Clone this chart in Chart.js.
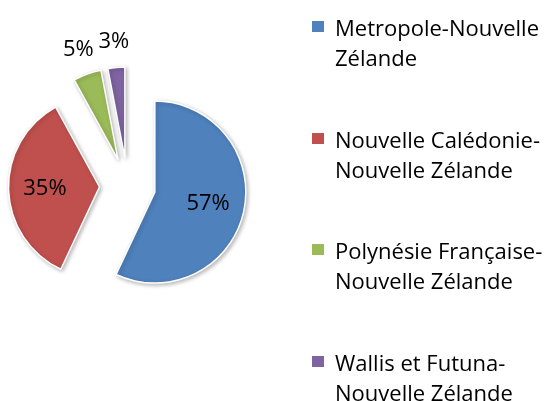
<!DOCTYPE html>
<html>
<head>
<meta charset="utf-8">
<script src="https://cdn.jsdelivr.net/npm/chart.js@4.4.0/dist/chart.umd.min.js"></script>
<style>
  html, body { margin: 0; padding: 0; background: #fff; }
  #wrap { position: relative; width: 557px; height: 401px; overflow: hidden; }
  #pie { position: absolute; left: 0; top: 0; }
  #legend { position: absolute; left: 312px; top: 12px; font-family: "Open Sans", sans-serif; font-size: 22px; line-height: 30px; color: #000; }
  .item { position: relative; padding-left: 23px; height: 60px; margin-bottom: 51.5px; white-space: nowrap; }
  .box { position: absolute; left: 0; top: 9px; width: 12px; height: 11px; }
</style>
</head>
<body>
<div id="wrap">
  <canvas id="pie" width="557" height="401"></canvas>
  <div id="legend"></div>
</div>
<script>
// --------- Data ---------
const routes = [
  ["Metropole-Nouvelle", "Zélande"],
  ["Nouvelle Calédonie-", "Nouvelle Zélande"],
  ["Polynésie Française-", "Nouvelle Zélande"],
  ["Wallis et Futuna-", "Nouvelle Zélande"]
];
const shares = [57, 35, 5, 3];
const sliceColors = ["#4F81BD", "#C0504D", "#9BBB59", "#8064A2"];

const FONT = '"Open Sans", sans-serif';

// --------- Exploded slices (every slice pulled out the same distance) ---------
const explodePlugin = {
  id: "explode",
  beforeDatasetDraw(chart, args, opts) {
    const ctx = chart.ctx;
    const dist = opts.distance || 0;
    ctx.save();
    ctx.shadowColor = "rgba(0,0,0,0.28)";
    ctx.shadowBlur = 4;
    ctx.shadowOffsetX = 1.5;
    ctx.shadowOffsetY = 1.5;
    args.meta.data.forEach((arc) => {
      const mid = (arc.startAngle + arc.endAngle) / 2;
      ctx.save();
      ctx.translate(Math.cos(mid) * dist, Math.sin(mid) * dist);
      arc.draw(ctx, chart.chartArea);
      ctx.restore();
    });
    ctx.restore();
    return false;
  }
};

// --------- Percent labels ---------
const labelPlugin = {
  id: "pctLabels",
  afterDatasetsDraw(chart, args, opts) {
    const ctx = chart.ctx;
    const meta = chart.getDatasetMeta(0);
    const values = chart.data.datasets[0].data;
    const total = values.reduce((a, b) => a + b, 0);
    const dist = chart.options.plugins.explode.distance;
    ctx.save();
    ctx.font = "22px " + FONT;
    ctx.fillStyle = "#000";
    ctx.textAlign = "center";
    ctx.textBaseline = "middle";
    meta.data.forEach((arc, i) => {
      const pct = Math.round((values[i] / total) * 100);
      const mid = (arc.startAngle + arc.endAngle) / 2;
      const r = arc.outerRadius;
      const d = pct >= 10 ? dist + r * 0.6 : dist + r + 26;
      ctx.fillText(pct + "%", arc.x + Math.cos(mid) * d, arc.y + Math.sin(mid) * d);
    });
    ctx.restore();
  }
};

new Chart(document.getElementById("pie"), {
  type: "pie",
  data: {
    labels: routes,
    datasets: [
      {
        data: shares,
        backgroundColor: sliceColors,
        borderColor: "#ffffff",
        borderWidth: 1.5
      }
    ]
  },
  options: {
    responsive: false,
    animation: false,
    radius: 91,
    layout: { padding: { left: 0, top: 0, right: 302, bottom: 29 } },
    plugins: {
      legend: { display: false },
      tooltip: { enabled: false },
      explode: { distance: 28 }
    }
  },
  plugins: [explodePlugin, labelPlugin]
});

// --------- Legend ---------
const legend = document.getElementById("legend");
routes.forEach((lines, i) => {
  const item = document.createElement("div");
  item.className = "item";
  const box = document.createElement("span");
  box.className = "box";
  box.style.background = sliceColors[i];
  item.appendChild(box);
  lines.forEach((line) => {
    const row = document.createElement("div");
    row.textContent = line;
    item.appendChild(row);
  });
  legend.appendChild(item);
});
</script>
</body>
</html>
